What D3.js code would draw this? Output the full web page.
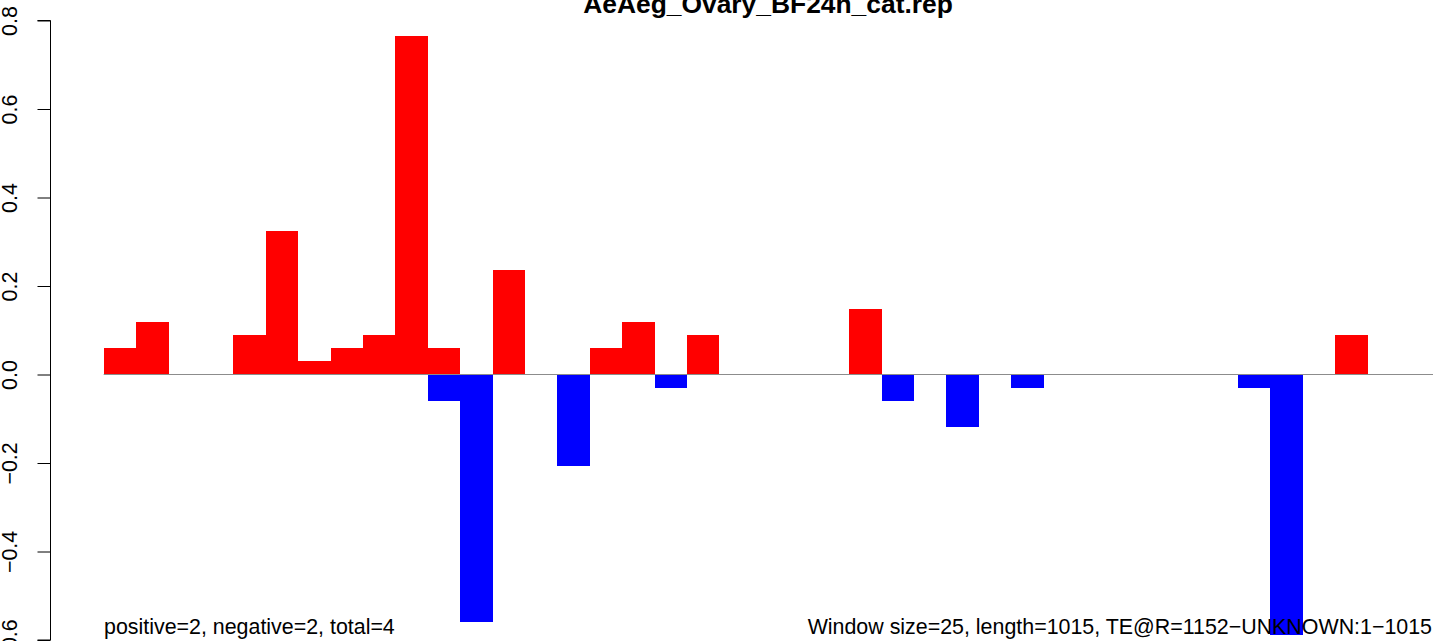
<!DOCTYPE html>
<html>
<head>
<meta charset="utf-8">
<script src="https://cdn.jsdelivr.net/npm/d3@7"></script>
<style>
  body { margin: 0; background: #fff; }
  svg { display: block; font-family: "Liberation Sans", Arial, sans-serif; }
</style>
</head>
<body>
<div id="chart-area"></div>
<script>
// window values (fraction of reads), one entry per window
var positive = [0.0588, 0.1176, 0, 0, 0.0882, 0.3235, 0.0294, 0.0588, 0.0882, 0.7647,
                0.0588, 0, 0.2353, 0, 0, 0.0588, 0.1176, 0, 0.0882, 0,
                0, 0, 0, 0.1471, 0, 0, 0, 0, 0, 0,
                0, 0, 0, 0, 0, 0, 0, 0, 0.0882];
var negative = [0, 0, 0, 0, 0, 0, 0, 0, 0, 0,
                -0.0588, -0.5588, 0, 0, -0.2059, 0, 0, -0.0294, 0, 0,
                0, 0, 0, 0, -0.0588, 0, -0.1176, 0, -0.0294, 0,
                0, 0, 0, 0, 0, -0.0294, -0.5882, 0, 0];
var yTicks = [-0.6, -0.4, -0.2, 0.0, 0.2, 0.4, 0.6, 0.8];

var title = "AeAeg_Ovary_BF24h_cat.rep";
var leftNote = "positive=2, negative=2, total=4";
var rightNote = "Window size=25, length=1015, TE@R=1152\u2212UNKNOWN:1\u22121015";

var W = 1433, H = 641;
var svg = d3.select("#chart-area").append("svg")
    .attr("width", W)
    .attr("height", H);

var idx = positive.map((d, i) => i);

var x = d3.scaleBand()
    .domain(idx)
    .range([103.7, 1367.7])
    .padding(0);

var y = d3.scaleLinear()
    .domain([-0.6, 0.8])
    .range([640, 20.5]);

// positive bars
svg.selectAll("rect.pos")
    .data(positive)
    .enter().append("rect")
        .attr("class", "pos")
        .attr("x", (d, i) => x(i))
        .attr("y", (d) => y(d))
        .attr("width", x.bandwidth())
        .attr("height", (d) => y(0) - y(d))
        .attr("fill", "#ff0000")
        .attr("shape-rendering", "crispEdges");

// negative bars
svg.selectAll("rect.neg")
    .data(negative)
    .enter().append("rect")
        .attr("class", "neg")
        .attr("x", (d, i) => x(i))
        .attr("y", y(0))
        .attr("width", x.bandwidth())
        .attr("height", (d) => y(d) - y(0))
        .attr("fill", "#0000ff")
        .attr("shape-rendering", "crispEdges");

// zero line
svg.append("line")
    .attr("x1", 103.7).attr("x2", W)
    .attr("y1", y(0)).attr("y2", y(0))
    .attr("stroke", "#8c8c8c")
    .attr("stroke-width", 1);

// y axis
var yAxis = d3.axisLeft(y)
    .tickValues(yTicks)
    .tickSize(13)
    .tickFormat((d) => d3.format(".1f")(d).replace("-", "\u2212"));

var gy = svg.append("g")
    .attr("transform", "translate(50.5,0)")
    .call(yAxis);
gy.select(".domain").attr("d", "M-13," + y(0.8) + "H0V" + y(-0.6) + "H-13")
    .attr("stroke", "#000");
gy.selectAll(".tick line").attr("stroke", "#000");
gy.selectAll(".tick text")
    .attr("x", null).attr("dy", null)
    .attr("transform", "translate(-33.5,0) rotate(-90)")
    .attr("text-anchor", "middle")
    .attr("font-family", "Liberation Sans, Arial, sans-serif")
    .attr("font-size", 21.4)
    .attr("fill", "#000");

// title
svg.append("text")
    .attr("x", 768)
    .attr("y", 13)
    .attr("text-anchor", "middle")
    .attr("font-weight", "bold")
    .attr("font-size", 26.4)
    .text(title);

// notes at the bottom
svg.append("text")
    .attr("x", 104)
    .attr("y", 634)
    .attr("font-size", 21.4)
    .text(leftNote);

svg.append("text")
    .attr("x", 1432)
    .attr("y", 634)
    .attr("text-anchor", "end")
    .attr("font-size", 21.4)
    .text(rightNote);
</script>
</body>
</html>
